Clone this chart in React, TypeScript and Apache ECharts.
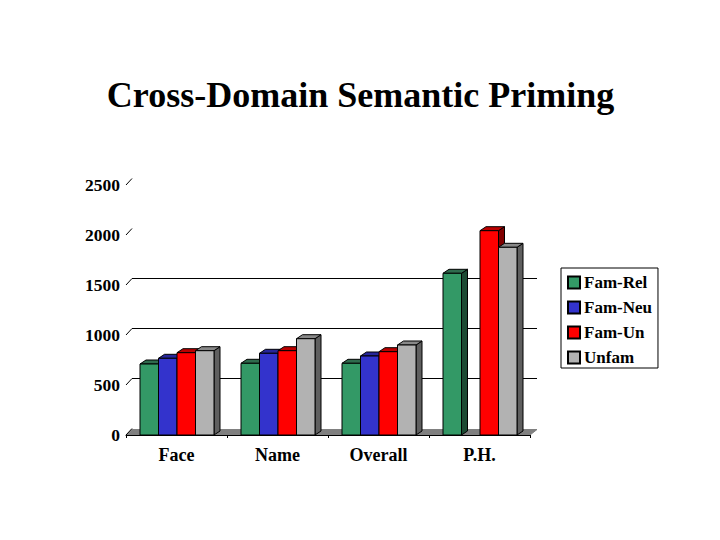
import React, { useEffect, useRef } from "react";
import * as echarts from "echarts";

const categories = ["Face", "Name", "Overall", "P.H."];
const famRel = [710, 717, 717, 1617];
const famNeu = [767, 817, 790, 0];
const famUn = [823, 843, 833, 2043];
const unfam = [843, 963, 900, 1877];
const wallLines = [500, 1000, 1500];
const yTicks = [0, 500, 1000, 1500, 2000, 2500];
const seriesNames = ["Fam-Rel", "Fam-Neu", "Fam-Un", "Unfam"];

const FONT = '"Liberation Serif", "Times New Roman", serif';
const WALL_DX = 6;
const WALL_DY = 6.5;
const BAR_W = 18.5;
const BAR_DX = 6;
const BAR_DY = 4;

function barSeries(
  name: string,
  values: number[],
  index: number,
  front: string,
  top: string,
  side: string
) {
  return {
    type: "custom",
    name,
    z: 5,
    itemStyle: { color: front, borderColor: "#000", borderWidth: 1 },
    encode: { x: 0, y: 1 },
    data: values.map((v, i) => [i, v]),
    renderItem: (_p: any, api: any) => {
      const v = api.value(1);
      if (!v) return { type: "group", children: [] };
      const [cx, y1] = api.coord([api.value(0), v]);
      const [, y0] = api.coord([api.value(0), 0]);
      const x0 = cx + (index - 2) * BAR_W + 0.5;
      const x1 = x0 + BAR_W;
      const line = { stroke: "#000", lineWidth: 1 };
      return {
        type: "group",
        children: [
          {
            type: "polygon",
            shape: { points: [[x1, y0], [x1, y1], [x1 + BAR_DX, y1 - BAR_DY], [x1 + BAR_DX, y0 - BAR_DY]] },
            style: { fill: side, ...line },
          },
          {
            type: "polygon",
            shape: { points: [[x0, y1], [x1, y1], [x1 + BAR_DX, y1 - BAR_DY], [x0 + BAR_DX, y1 - BAR_DY]] },
            style: { fill: top, ...line },
          },
          {
            type: "rect",
            shape: { x: x0, y: y1, width: BAR_W, height: y0 - y1 },
            style: { fill: front, ...line },
          },
        ],
      };
    },
  };
}

export default function App() {
  const ref = useRef<HTMLDivElement>(null);
  useEffect(() => {
    const chart = echarts.init(ref.current!, null, { renderer: "svg" });
    chart.setOption({
      animation: false,
      backgroundColor: "#fff",
      title: {
        text: "Cross-Domain Semantic Priming",
        left: 355.5,
        top: 72,
        textAlign: "center",
        textStyle: { fontFamily: FONT, fontSize: 36, fontWeight: "bold", color: "#000" },
      },
      legend: {
        orient: "vertical",
        left: 561,
        top: 268,
        data: seriesNames,
        icon: "rect",
        itemWidth: 12,
        itemHeight: 12,
        itemGap: 8,
        padding: [6, 6, 2, 6],
        borderColor: "#000",
        borderWidth: 1,
        borderRadius: 0,
        selectedMode: false,
        textStyle: { fontFamily: FONT, fontSize: 17, fontWeight: "bold", color: "#000", padding: [0, 0, 0, -1] },
      },
      grid: { left: 126, right: 190, top: 185, bottom: 105 },
      xAxis: {
        type: "category",
        data: categories,
        axisLine: { lineStyle: { color: "#000", width: 1 } },
        axisTick: { show: true, length: 3, lineStyle: { color: "#000" } },
        axisLabel: { margin: 11, fontFamily: FONT, fontSize: 18, fontWeight: "bold", color: "#000" },
        z: 6,
      },
      yAxis: {
        type: "value",
        min: 0,
        max: 2500,
        interval: 500,
        axisLine: { show: false },
        axisTick: { show: false },
        splitLine: { show: false },
        axisLabel: {
          margin: 6,
          fontFamily: FONT,
          fontSize: 17.5,
          fontWeight: "bold",
          color: "#000",
          formatter: (v: number) => String(v),
        },
      },
      series: [
        {
          type: "custom",
          name: "floor",
          z: 1,
          silent: true,
          encode: { x: 0, y: 1 },
          data: [[0, 0]],
          renderItem: (p: any, api: any) => {
            const [, y] = api.coord([0, 0]);
            const l = p.coordSys.x;
            const r = l + p.coordSys.width;
            return {
              type: "polygon",
              shape: {
                points: [[l, y], [l + WALL_DX, y - 5.5], [r + 7, y - 5.5], [r, y]],
              },
              style: { fill: "#808080", stroke: "#808080", lineWidth: 1 },
            };
          },
        },
        {
          type: "custom",
          name: "wall",
          z: 2,
          silent: true,
          encode: { x: 0, y: 1 },
          data: wallLines.map((v) => [0, v]),
          renderItem: (p: any, api: any) => {
            const [, y] = api.coord([0, api.value(1)]);
            const l = p.coordSys.x;
            const r = l + p.coordSys.width;
            return {
              type: "line",
              shape: { x1: l + WALL_DX, y1: y - WALL_DY, x2: r + 7, y2: y - WALL_DY },
              style: { stroke: "#000", lineWidth: 1 },
            };
          },
        },
        {
          type: "custom",
          name: "ticks",
          z: 2,
          silent: true,
          encode: { x: 0, y: 1 },
          data: yTicks.map((v) => [0, v]),
          renderItem: (p: any, api: any) => {
            const [, y] = api.coord([0, api.value(1)]);
            const l = p.coordSys.x;
            return {
              type: "line",
              shape: { x1: l, y1: y, x2: l + WALL_DX, y2: y - WALL_DY },
              style: { stroke: "#000", lineWidth: 1 },
            };
          },
        },
        barSeries(seriesNames[0], famRel, 0, "#339966", "#2F6B4D", "#1C4A33"),
        barSeries(seriesNames[1], famNeu, 1, "#3333CC", "#262699", "#1A1A66"),
        barSeries(seriesNames[2], famUn, 2, "#FF0000", "#BB0000", "#800000"),
        barSeries(seriesNames[3], unfam, 3, "#B2B2B2", "#888888", "#5F5F5F"),
      ],
    });
    return () => chart.dispose();
  }, []);
  return (
    <div
      ref={ref}
      style={{ position: "absolute", left: 0, top: 0, width: 720, height: 540 }}
    />
  );
}
